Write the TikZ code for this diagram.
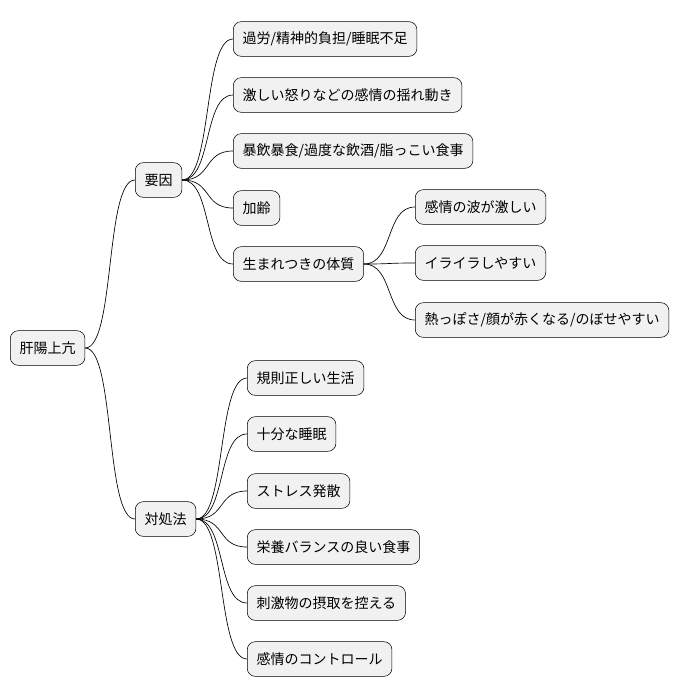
\documentclass[tikz,border=0pt]{standalone}
\usepackage{fontspec}
\newfontfamily\cjk{Noto Sans CJK JP}
\usetikzlibrary{calc}
\definecolor{NodeGray}{RGB}{241,241,241}
\tikzset{
  topic/.style={draw=black, fill=NodeGray, rounded corners=6pt, anchor=west,
    minimum height=26pt, inner xsep=7pt, font=\cjk\fontsize{10.5pt}{12pt}\selectfont},
  link/.style={draw=black, line width=0.5pt}
}
\newcommand{\branch}[2]{\draw[link] (#1.east) .. controls ($(#1.east)+(30,0)$) and ($(#2.west)-(30,0)$) .. (#2.west);}
\begin{document}
\begin{tikzpicture}[x=0.75pt,y=-0.75pt]
\useasboundingbox (0,0) rectangle (680,696);
%\draw[help lines] (0,0) grid (680,696);
\node[topic] (root) at (10,348) {肝陽上亢};
\node[topic] (cause) at (135,180) {要因};
\node[topic] (cure) at (135,519) {対処法};
% causes
\node[topic] (c1) at (233,39) {過労/精神的負担/睡眠不足};
\node[topic] (c2) at (233,95) {激しい怒りなどの感情の揺れ動き};
\node[topic] (c3) at (233,151) {暴飲暴食/過度な飲酒/脂っこい食事};
\node[topic] (c4) at (233,208) {加齢};
\node[topic] (c5) at (233,264) {生まれつきの体質};
\node[topic] (t1) at (415,207) {感情の波が激しい};
\node[topic] (t2) at (415,263) {イライラしやすい};
\node[topic] (t3) at (415,320) {熱っぽさ/顔が赤くなる/のぼせやすい};
% remedies
\node[topic] (r1) at (247,378) {規則正しい生活};
\node[topic] (r2) at (247,434) {十分な睡眠};
\node[topic] (r3) at (247,491) {ストレス発散};
\node[topic] (r4) at (247,547) {栄養バランスの良い食事};
\node[topic] (r5) at (247,603) {刺激物の摂取を控える};
\node[topic] (r6) at (247,659) {感情のコントロール};
\branch{root}{cause}
\branch{root}{cure}
\foreach \n in {c1,c2,c3,c4,c5} {\branch{cause}{\n}}
\foreach \n in {t1,t2,t3} {\branch{c5}{\n}}
\foreach \n in {r1,r2,r3,r4,r5,r6} {\branch{cure}{\n}}
\end{tikzpicture}
\end{document}
